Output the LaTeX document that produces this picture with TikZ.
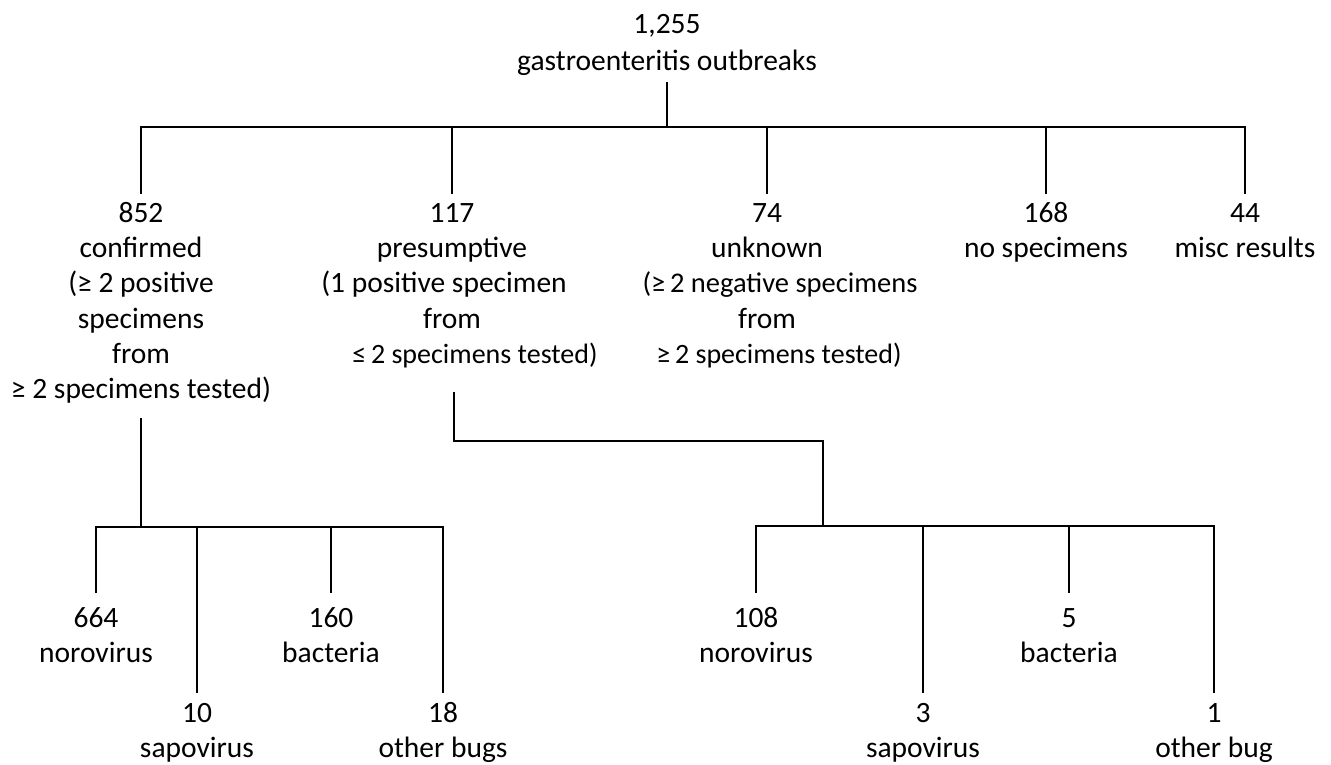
\documentclass[tikz,border=0pt]{standalone}
\usepackage{fontspec}
\setmainfont{Carlito}
\newcommand\topgap[1]{\rule{0pt}{#1pt}}
\begin{document}
\begin{tikzpicture}[x=1pt,y=-1pt,
  lbl/.style={font=\fontsize{29.5}{35.3}\selectfont, align=center, inner xsep=0pt, inner ysep=0pt, anchor=north},
  conn/.style={line width=2.4pt, line join=miter, line cap=butt}]
\useasboundingbox (0,0) rectangle (1331,765);
% root
\node[lbl, font=\fontsize{29.5}{37}\selectfont] (root) at (667,0) {\topgap{33}1,255\\gastroenteritis outbreaks};
\coordinate (bus0) at (0,127);
\coordinate (busP) at (0,441);
\coordinate (busC) at (0,527);
\coordinate (busQ) at (0,526);
% level 1
\node[lbl] (c852) at (141,194) {\topgap{28}852\\confirmed\\(≥ 2 positive\\specimens\\from\\≥ 2 specimens tested)};
\node[lbl] (c117) at (452,194) {\topgap{28}117\\presumptive\\\mbox{(1 positive specimen\kern16pt}\\from\\\hspace*{46pt}{\fontsize{28}{35.3}\selectfont ≤\,2 specimens tested)}};
\node[lbl] (c74) at (767,194) {\topgap{28}74\\unknown\\\hspace*{26pt}{\fontsize{28.5}{35.3}\selectfont (≥\,2 negative specimens}\\from\\\hspace*{24pt}{\fontsize{28}{35.3}\selectfont ≥\,2 specimens tested)}};
\node[lbl] (c168) at (1046,194) {\topgap{28}168\\no specimens};
\node[lbl] (c44) at (1245,194) {\topgap{28}44\\misc results};
% leaves of confirmed
\node[lbl] (l664) at (96,593) {\topgap{34}664\\norovirus};
\node[lbl] (l10) at (197,693) {\topgap{29}10\\sapovirus};
\node[lbl] (l160) at (331,593) {\topgap{34}160\\bacteria};
\node[lbl] (l18) at (443,693) {\topgap{29}18\\other bugs};
% leaves of presumptive
\node[lbl] (l108) at (756,593) {\topgap{34}108\\norovirus};
\node[lbl] (l3) at (923,693) {\topgap{29}3\\sapovirus};
\node[lbl] (l5) at (1069,593) {\topgap{34}5\\bacteria};
\node[lbl] (l1) at (1214,693) {\topgap{29}1\\other bug};
% top-level connectors
\coordinate (rj) at ([yshift=-7pt]root.south);
\draw[conn] (rj) -- (rj |- bus0);
\draw[conn] (c852.north) -- (c852.north |- bus0) -- (c44.north |- bus0) -- (c44.north);
\draw[conn] (c117.north |- bus0) -- (c117.north);
\draw[conn] (c74.north |- bus0) -- (c74.north);
\draw[conn] (c168.north |- bus0) -- (c168.north);
% confirmed subtree
\coordinate (cj) at (141,418);
\draw[conn] (cj) -- (cj |- busC);
\draw[conn] (l664.north) -- (l664.north |- busC) -- (l18.north |- busC) -- (l18.north);
\draw[conn] (l10.north |- busC) -- (l10.north);
\draw[conn] (l160.north |- busC) -- (l160.north);
% presumptive subtree
\coordinate (pj) at (454,392);
\coordinate (pk) at (823,441);
\draw[conn] (pj) -- (pj |- busP) -- (pk) -- (pk |- busQ);
\draw[conn] (l108.north) -- (l108.north |- busQ) -- (l1.north |- busQ) -- (l1.north);
\draw[conn] (l3.north |- busQ) -- (l3.north);
\draw[conn] (l5.north |- busQ) -- (l5.north);
\end{tikzpicture}
\end{document}
